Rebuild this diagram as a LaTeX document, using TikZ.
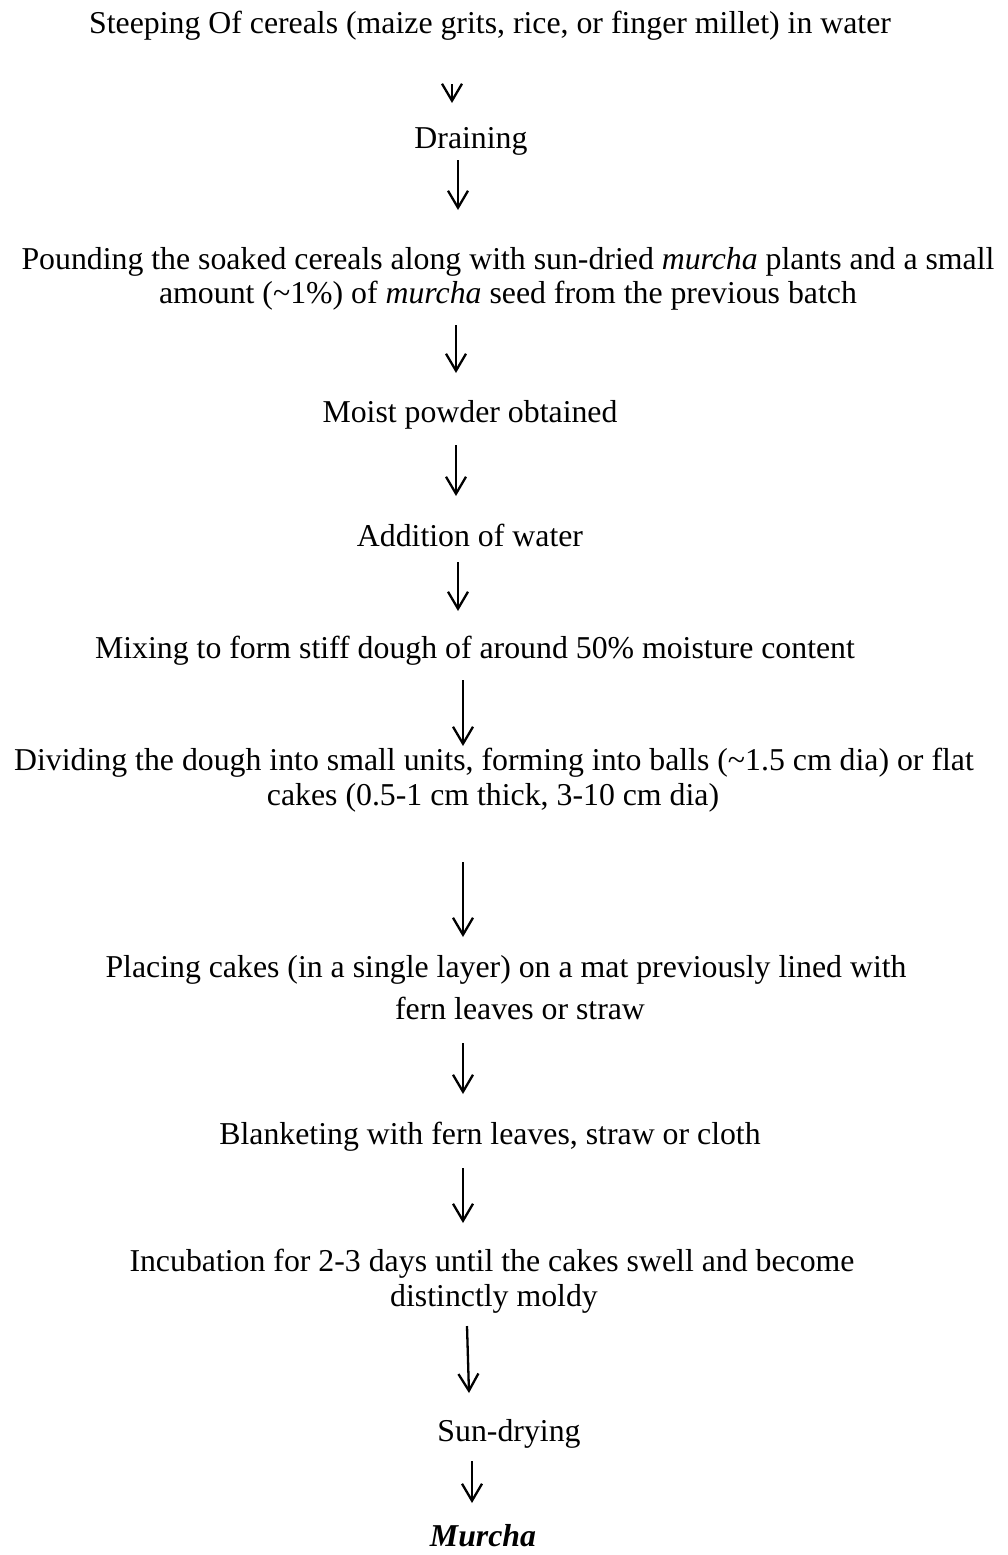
\documentclass[tikz,border=0pt]{standalone}
\usepackage{fontspec}
\setmainfont{Liberation Serif}
\usetikzlibrary{arrows.meta}
\begin{document}
\begin{tikzpicture}[x=1pt,y=-1pt,
  txt/.style={anchor=base,inner sep=0pt,font=\fontsize{31.8}{38}\selectfont},
  flow/.style={line width=2.3pt,-{Straight Barb[length=17pt,width=20pt]}}]
\useasboundingbox (0,0) rectangle (1008,1555);
\node[txt] (t1) at (490,34) {Steeping Of cereals (maize grits, rice, or finger millet) in water};
\node[txt] (t2) at (471,148) {Draining};
\node[txt] (t3a) at (508,269) {Pounding the soaked cereals along with sun-dried \textit{murcha} plants and a small};
\node[txt] (t3b) at (508,303) {amount (\textasciitilde1\%) of \textit{murcha} seed from the previous batch};
\node[txt] (t4) at (470,422) {Moist powder obtained};
\node[txt] (t5) at (470,546) {Addition of water};
\node[txt] (t6) at (475,658) {Mixing to form stiff dough of around 50\% moisture content};
\node[txt] (t7a) at (494,770) {Dividing the dough into small units, forming into balls (\textasciitilde1.5 cm dia) or flat};
\node[txt] (t7b) at (493,805) {cakes (0.5-1 cm thick, 3-10 cm dia)};
\node[txt] (t8a) at (506,977) {Placing cakes (in a single layer) on a mat previously lined with};
\node[txt] (t8b) at (520,1019) {fern leaves or straw};
\node[txt] (t9) at (490,1144) {Blanketing with fern leaves, straw or cloth};
\node[txt] (t10a) at (492,1271) {Incubation for 2-3 days until the cakes swell and become};
\node[txt] (t10b) at (494,1306) {distinctly moldy};
\node[txt] (t11) at (509,1441) {Sun-drying};
\node[txt] (t12) at (483,1546) {\textbf{\textit{Murcha}}};
\coordinate (a1s) at (452,84);   \coordinate (a1e) at (452,103);
\coordinate (a2s) at (458,160);  \coordinate (a2e) at (458,210);
\coordinate (a3s) at (456,325);  \coordinate (a3e) at (456,373);
\coordinate (a4s) at (456,445);  \coordinate (a4e) at (456,496);
\coordinate (a5s) at (458,562);  \coordinate (a5e) at (458,611);
\coordinate (a6s) at (463,680);  \coordinate (a6e) at (463,746);
\coordinate (a7s) at (463,862);  \coordinate (a7e) at (463,937);
\coordinate (a8s) at (463,1043); \coordinate (a8e) at (463,1094);
\coordinate (a9s) at (463,1168); \coordinate (a9e) at (463,1223);
\coordinate (a10s) at (467,1326); \coordinate (a10e) at (469,1393);
\coordinate (a11s) at (472,1461); \coordinate (a11e) at (472,1503);
\foreach \i in {1,...,11} {\draw[flow] (a\i s) -- (a\i e);}
\end{tikzpicture}
\end{document}
